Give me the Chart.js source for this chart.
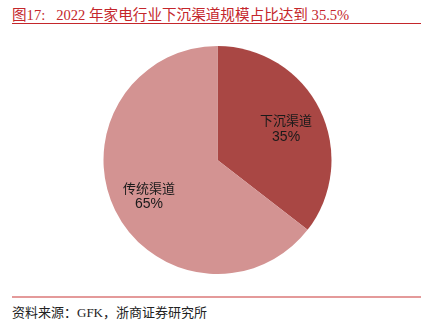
<!DOCTYPE html>
<html>
<head>
<meta charset="utf-8">
<script src="https://cdn.jsdelivr.net/npm/chart.js@4"></script>
<style>
  html, body { margin: 0; padding: 0; background: #fff; }
  #page { position: relative; width: 423px; height: 322px; overflow: hidden; }
  #title {
    position: absolute; left: 12px; top: 3px;
    font: 14.6px "Liberation Serif", "Noto Sans CJK SC", serif;
    color: #c4262b; white-space: nowrap;
  }
  #topline { position: absolute; left: 12px; top: 23px; width: 409px; height: 1px; background: #c4262b; }
  #botline { position: absolute; left: 12px; top: 296px; width: 409px; height: 2px; background: #e49a9a; }
  #source {
    position: absolute; left: 12px; top: 302px;
    font: 13px "Liberation Serif", "Noto Sans CJK SC", serif;
    color: #222; white-space: nowrap;
  }
  #wrap { position: absolute; left: 103px; top: 46px; width: 229px; height: 228px; }
</style>
</head>
<body>
<div id="page">
  <div id="title">图17:&nbsp;&nbsp; 2022 年家电行业下沉渠道规模占比达到 35.5%</div>
  <div id="topline"></div>
  <div id="wrap"><canvas id="pie"></canvas></div>
  <div id="botline"></div>
  <div id="source">资料来源：GFK，浙商证券研究所</div>
</div>
<script>
// data
const channels = ['下沉渠道', '传统渠道'];
const shares = [35.5, 64.5];
const pctLabels = ['35%', '65%'];
const sliceColors = ['#a94744', '#d39392'];

// draw the name + percent inside each slice
const sliceLabels = {
  id: 'sliceLabels',
  afterDatasetsDraw(chart) {
    const ctx = chart.ctx;
    const meta = chart.getDatasetMeta(0);
    meta.data.forEach((arc, i) => {
      const mid = (arc.startAngle + arc.endAngle) / 2;
      const r = arc.outerRadius * 0.67;
      const x = arc.x + Math.cos(mid) * r;
      const y = arc.y + Math.sin(mid) * r;
      ctx.save();
      ctx.fillStyle = '#1a1a1a';
      ctx.textAlign = 'center';
      ctx.textBaseline = 'middle';
      ctx.font = '13px "Noto Sans CJK SC", sans-serif';
      ctx.fillText(channels[i], x, y - 6);
      ctx.font = '14px "Liberation Sans", Arial, sans-serif';
      ctx.fillText(pctLabels[i], x, y + 11);
      ctx.restore();
    });
  }
};

new Chart(document.getElementById('pie'), {
  type: 'pie',
  data: {
    labels: channels,
    datasets: [{
      data: shares,
      backgroundColor: sliceColors,
      borderWidth: 0
    }]
  },
  options: {
    responsive: true,
    maintainAspectRatio: false,
    animation: false,
    layout: { padding: 0 },
    plugins: { legend: { display: false }, tooltip: { enabled: false } }
  },
  plugins: [sliceLabels]
});
</script>
</body>
</html>
